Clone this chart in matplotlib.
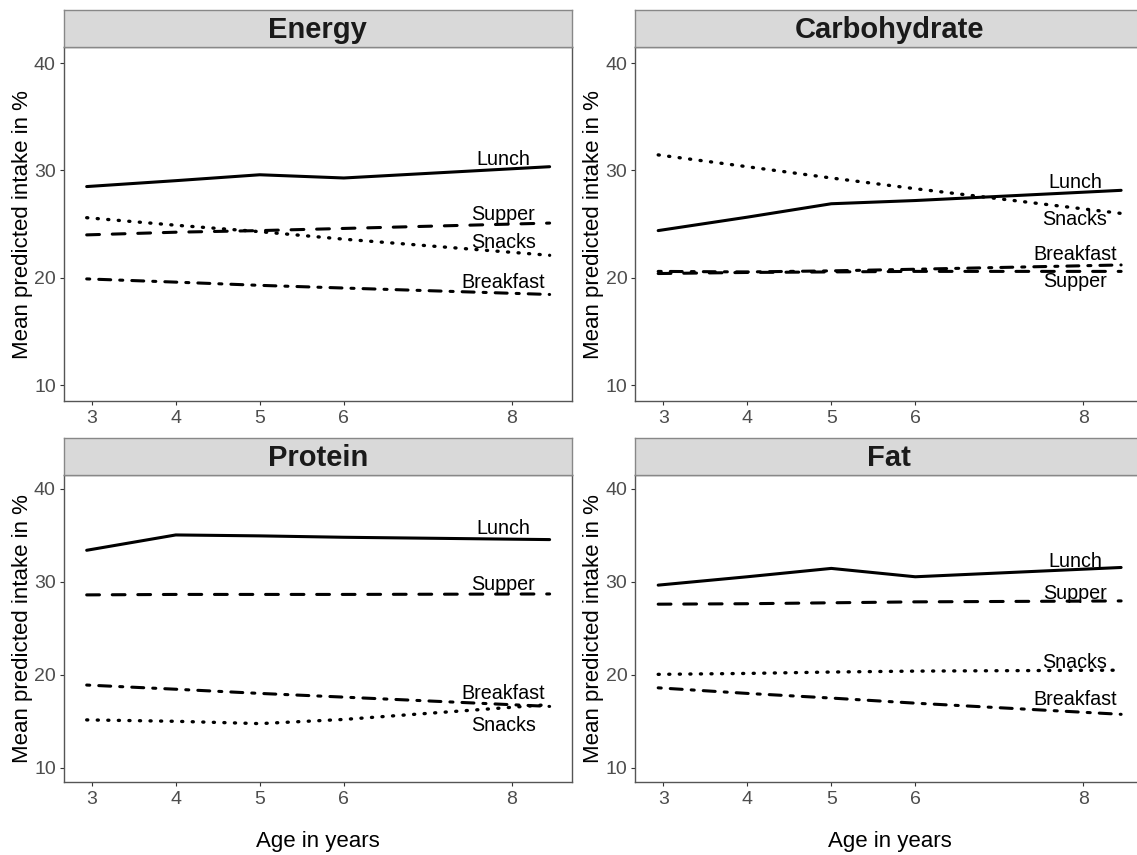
import matplotlib
matplotlib.use('Agg')
import matplotlib.pyplot as plt

plt.rcParams['font.family'] = ['Liberation Sans', 'DejaVu Sans']
plt.rcParams['lines.scale_dashes'] = False

# ages of the measurement points
ages = [2.94, 4, 5, 6, 8.45]
meals = ['Lunch', 'Supper', 'Snacks', 'Breakfast']

# mean predicted intake in % per nutrient and meal
energy_lunch = [28.5, 29.05, 29.6, 29.3, 30.35]
energy_supper = [24.0, 24.25, 24.4, 24.6, 25.1]
energy_snacks = [25.6, 24.9, 24.3, 23.6, 22.1]
energy_breakfast = [19.9, 19.6, 19.3, 19.05, 18.45]

carb_lunch = [24.4, 25.65, 26.9, 27.2, 28.15]
carb_supper = [20.4, 20.5, 20.55, 20.6, 20.6]
carb_snacks = [31.45, 30.35, 29.3, 28.3, 26.0]
carb_breakfast = [20.6, 20.55, 20.65, 20.8, 21.2]

protein_lunch = [33.4, 35.05, 34.95, 34.8, 34.55]
protein_supper = [28.6, 28.65, 28.65, 28.65, 28.7]
protein_snacks = [15.15, 15.0, 14.75, 15.2, 16.8]
protein_breakfast = [18.9, 18.45, 18.0, 17.6, 16.6]

fat_lunch = [29.65, 30.55, 31.45, 30.55, 31.55]
fat_supper = [27.6, 27.65, 27.75, 27.85, 27.95]
fat_snacks = [20.05, 20.15, 20.3, 20.4, 20.5]
fat_breakfast = [18.6, 18.0, 17.5, 16.95, 15.75]

panels = [
    ('Energy', energy_lunch, energy_supper, energy_snacks, energy_breakfast),
    ('Carbohydrate', carb_lunch, carb_supper, carb_snacks, carb_breakfast),
    ('Protein', protein_lunch, protein_supper, protein_snacks, protein_breakfast),
    ('Fat', fat_lunch, fat_supper, fat_snacks, fat_breakfast),
]

# where the meal names sit (baseline, in data units)
label_x = 7.9
label_y = {
    'Energy': [30.5, 25.37, 22.75, 19.04],
    'Carbohydrate': [28.38, 19.14, 24.94, 21.69],
    'Protein': [35.16, 29.14, 13.94, 17.42],
    'Fat': [31.65, 28.17, 20.72, 16.7],
}

# line styles like ggplot solid / dashed / dotted / dotdash
styles = {
    'Lunch': '-',
    'Supper': (0, (9.2, 9.2)),
    'Snacks': (0, (0.8, 6.8)),
    'Breakfast': (0, (2.2, 6.5, 8.6, 6.5)),
}

W, H = 1137, 855
fig = plt.figure(figsize=(W / 100, H / 100), dpi=100)

col_left = [63.5, 635]
panel_w = 508.8
# (strip top, panel top, panel bottom) in pixels
rows = [(9.7, 47, 401.3), (437.7, 475, 781.7)]

for i, (name, lunch, supper, snacks, breakfast) in enumerate(panels):
    r, c = divmod(i, 2)
    st, pt, pb = rows[r]
    x0 = col_left[c]
    ax = fig.add_axes([x0 / W, 1 - pb / H, panel_w / W, (pb - pt) / H])
    sx = fig.add_axes([x0 / W, 1 - pt / H, panel_w / W, (pt - st) / H])

    for meal, vals in zip(meals, [lunch, supper, snacks, breakfast]):
        lw = 2.4 if meal == 'Snacks' else 2.2
        ax.plot(ages, vals, color='black', lw=lw, linestyle=styles[meal],
                dash_capstyle='round', solid_capstyle='round')
    for meal, y in zip(meals, label_y[name]):
        ax.text(label_x, y, meal, ha='center', va='baseline', fontsize=14.2, color='black')

    ax.set_xlim(2.664, 8.72)
    ax.set_ylim(8.5, 41.5)
    ax.set_xticks([3, 4, 5, 6, 8])
    ax.set_yticks([10, 20, 30, 40])
    ax.tick_params(length=3, width=0.8, color='#333333', labelcolor='#4D4D4D',
                   labelsize=14, pad=2.5)
    ax.tick_params(axis='x', pad=3.5)
    for s in ax.spines.values():
        s.set_color('#555555')
        s.set_linewidth(1.0)

    sx.set_facecolor('#D9D9D9')
    sx.set_xticks([])
    sx.set_yticks([])
    for s in sx.spines.values():
        s.set_color('#888888')
        s.set_linewidth(1.0)
    sx.text(0.5, 0.45, name, transform=sx.transAxes, ha='center', va='center',
            fontsize=21, fontweight='bold', color='#1A1A1A')

    yc = (pt + pb) / 2
    fig.text((x0 - 41) / W, 1 - yc / H, 'Mean predicted intake in %', rotation=90,
             ha='center', va='center', fontsize=16)
    if r == 1:
        fig.text((x0 + panel_w / 2) / W, 1 - 846.7 / H, 'Age in years',
                 ha='center', va='baseline', fontsize=16)

fig.savefig('out.png', dpi=100)
